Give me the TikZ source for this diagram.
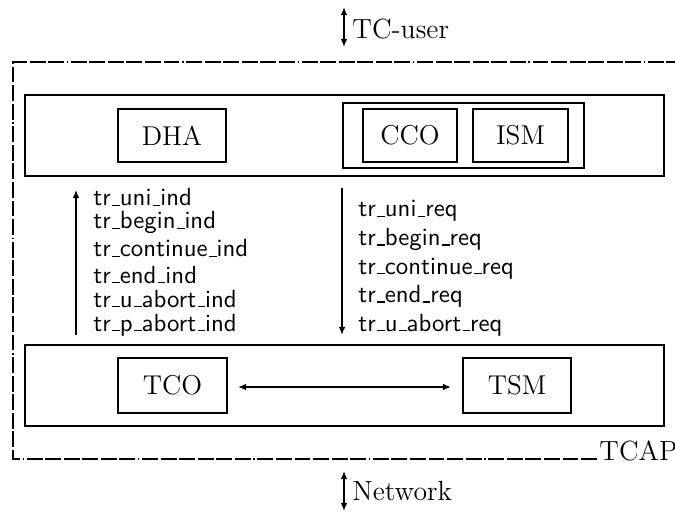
\documentclass[tikz,border=0pt]{standalone}
\usetikzlibrary{arrows.meta}
% low rule used as underscore in the primitive names
\newcommand\usc{\leavevmode\kern.06em\vbox{\hrule width.3em height 0.45pt}}
\begin{document}
\def\pxu{0.415pt}
\begin{tikzpicture}[x=0.415pt,y=-0.415pt,
  box/.style={draw,line width=0.6pt,rectangle,inner sep=0pt,outer sep=0pt},
  unit/.style={box,font=\fontsize{11.3}{13}\selectfont},
  prim/.style={anchor=base west,inner sep=0pt,font=\sffamily\fontsize{10.3}{12}\selectfont},
  flow/.style={line width=0.6pt,-{Latex[length=3.4pt,width=2.8pt]}},
  both/.style={line width=0.6pt,{Latex[length=3.4pt,width=2.8pt]}-{Latex[length=3.4pt,width=2.8pt]}},
  frame/.style={line width=0.65pt,
    dash pattern=on 6.6pt off 1.1pt on 6.6pt off 1.1pt on 6.6pt off 1.1pt on 6.6pt off 1.1pt on 6.6pt off 1.1pt on 6.6pt off 1.1pt on 0.6pt off 1.1pt}]
\useasboundingbox (0,0) rectangle (675,512);
\begin{scope}
\clip (0,0) rectangle (675,512);

% layer frame (TCAP), open towards the right
\node[anchor=base west,inner sep=0pt,font=\fontsize{11.5}{13}\selectfont] (tcap) at (599,460) {TCAP};
\coordinate (fbr) at (597,459);
\coordinate (fbl) at (13,459);
\coordinate (ftl) at (13,62);
\coordinate (ftr) at (690,62);
\draw[frame] (fbr) -- (fbl) -- (ftl) -- (ftr);

% upper sublayer
\node[box,minimum width=639*\pxu,minimum height=81*\pxu] (upper) at (344.5,135.5) {};
\node[unit,minimum width=108*\pxu,minimum height=53*\pxu] (dha) at (172,135.5) {DHA};
\node[box,minimum width=241*\pxu,minimum height=65*\pxu] (grp) at (463.5,135.5) {};
\node[unit,minimum width=94*\pxu,minimum height=53*\pxu] (cco) at (410,135.5) {CCO};
\node[unit,minimum width=95*\pxu,minimum height=53*\pxu] (ism) at (520.5,135.5) {ISM};

% lower sublayer
\node[box,minimum width=639*\pxu,minimum height=81*\pxu] (lower) at (344.5,385.5) {};
\node[unit,minimum width=109*\pxu,minimum height=55*\pxu] (tco) at (172.5,385.5) {TCO};
\node[unit,minimum width=108*\pxu,minimum height=55*\pxu] (tsm) at (517,385.5) {TSM};
\draw[both,shorten <=11*\pxu,shorten >=12*\pxu] ([yshift=-1.5*\pxu]tco.east) -- ([yshift=-1.5*\pxu]tsm.west);

% indication primitives (upwards)
\coordinate (indlo) at (76,335);
\coordinate (indhi) at (76,190);
\draw[flow] (indlo) -- (indhi);
\node[prim] (i1) at (93,206) {tr\usc uni\usc ind};
\node[prim] (i2) at (93,229) {tr\usc begin\usc ind};
\node[prim] (i3) at (93,257) {tr\usc continue\usc ind};
\node[prim] (i4) at (93,283) {tr\usc end\usc ind};
\node[prim] (i5) at (93,307) {tr\usc u\usc abort\usc ind};
\node[prim] (i6) at (93,331) {tr\usc p\usc abort\usc ind};

% request primitives (downwards)
\coordinate (reqhi) at (342,188);
\coordinate (reqlo) at (342,335);
\draw[flow] (reqhi) -- (reqlo);
\node[prim] (r1) at (358,217) {tr\usc uni\usc req};
\node[prim] (r2) at (358,245.5) {tr\usc begin\usc req};
\node[prim] (r3) at (358,274) {tr\usc continue\usc req};
\node[prim] (r4) at (358,302.5) {tr\usc end\usc req};
\node[prim] (r5) at (358,331) {tr\usc u\usc abort\usc req};

% interfaces to the user and to the network
\coordinate (ua) at (344,7);
\coordinate (ub) at (344,47);
\draw[both] (ua) -- (ub);
\node[anchor=west,inner sep=0pt,font=\fontsize{11.5}{13}\selectfont] (tcuser) at (352,29) {TC-user};
\coordinate (na) at (344,471);
\coordinate (nb) at (344,511);
\draw[both] (na) -- (nb);
\node[anchor=west,inner sep=0pt,font=\fontsize{11.5}{13}\selectfont] (net) at (352,491) {Network};
\end{scope}
\end{tikzpicture}
\end{document}
